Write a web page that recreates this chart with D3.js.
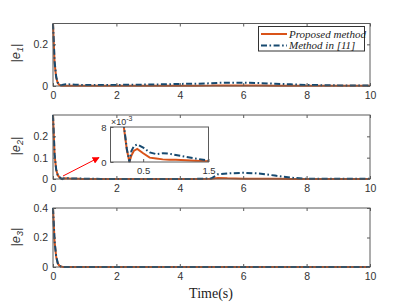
<!DOCTYPE html>
<html><head><meta charset="utf-8">
<script src="https://cdn.jsdelivr.net/npm/d3@7"></script>
<style>body{margin:0;background:#fff}svg{display:block}</style>
</head><body>
<script>
// ---------- data ----------
const time = [0,0.05,0.1,0.15,0.2,0.25,0.29,0.32,0.36,0.41,0.5,0.6,0.7,0.8,0.9,1.0,1.15,1.3,1.5,2,2.5,3,3.5,4,4.5,5,5.2,5.5,6,6.5,7,7.5,8,8.5,9,9.5,10];
const e1Proposed = [0.3,0.11,0.04,0.014,0.005,0.002,0.0015,0.0015,0.0015,0.0015,0.0015,0.0015,0.0015,0.0015,0.0015,0.0015,0.0015,0.0015,0.0015,0.0015,0.0015,0.0015,0.0015,0.0015,0.0015,0.002,0.003,0.003,0.0025,0.002,0.0015,0.0012,0.001,0.001,0.001,0.001,0.001];
const e1Method = [0.3,0.12,0.045,0.016,0.006,0.004,0.005,0.006,0.007,0.008,0.008,0.007,0.006,0.006,0.005,0.005,0.005,0.005,0.005,0.005,0.006,0.007,0.008,0.01,0.011,0.013,0.015,0.016,0.016,0.014,0.011,0.008,0.005,0.004,0.003,0.003,0.003];
const e2Proposed = [0.3,0.113,0.043,0.018,0.0085,0.0028,0,0.0015,0.0026,0.003,0.002,0.001,0.0008,0.0006,0.0005,0.0005,0.0004,0.0003,0.0002,0.0002,0.0002,0.0002,0.0002,0.0002,0.0003,0.001,0.005,0.003,0.0015,0.001,0.0006,0.0003,0.0002,0.0002,0.0002,0.0002,0.0002];
const e2Method = [0.3,0.116,0.045,0.019,0.009,0.003,0,0.0025,0.0037,0.004,0.0033,0.0022,0.0018,0.002,0.0019,0.0016,0.0012,0.0008,0.0003,0.0003,0.0003,0.0003,0.0003,0.0004,0.0005,0.003,0.022,0.026,0.029,0.026,0.016,0.006,0.001,0.001,0.001,0.001,0.001];
const e3Proposed = [0.4,0.17,0.07,0.025,0.009,0.003,0.001,0.0005,0.0003,0.0003,0.0003,0.0003,0.0003,0.0003,0.0003,0.0003,0.0003,0.0003,0.0003,0.0003,0.0003,0.0003,0.0003,0.0003,0.0003,0.0003,0.0003,0.0003,0.0003,0.0003,0.0003,0.0003,0.0003,0.0003,0.0003,0.0003,0.0003];
const e3Method = [0.4,0.175,0.072,0.027,0.01,0.0035,0.0012,0.0006,0.0004,0.0004,0.0004,0.0004,0.0004,0.0004,0.0004,0.0004,0.0004,0.0004,0.0004,0.0004,0.0004,0.0004,0.0004,0.0004,0.0004,0.0004,0.0004,0.0004,0.0004,0.0004,0.0004,0.0004,0.0004,0.0004,0.0004,0.0004,0.0004];
const xTicks = [0,2,4,6,8,10];
const yTicks1 = [0,0.2];
const yTicks2 = [0,0.1,0.2];
const yTicks3 = [0,0.2,0.4];
const insetXTicks = [0.5,1.5];
const insetYTicks = [0,8];
const seriesNames = ["Proposed method","Method in [11]"];
const yLabelSubs = ["1","2","3"];

// ---------- style ----------
const W = 409, H = 307;
const orange = "#D95319", blue = "#174A70";
const axisCol = "#5a5a5a", textCol = "#333";
const dash = "6,2.5,1.6,2.5";

const svg = d3.select("body").append("svg").attr("width", W).attr("height", H);

const x = d3.scaleLinear().domain([0,10]).range([53,370]);
const panels = [
  {top:23.5, bottom:86, dom:[0,0.3], ticks:yTicks1, p:e1Proposed, m:e1Method, labY:53},
  {top:115, bottom:179, dom:[0,0.3], ticks:yTicks2, p:e2Proposed, m:e2Method, labY:146},
  {top:208, bottom:267, dom:[0,0.4], ticks:yTicks3, p:e3Proposed, m:e3Method, labY:237}
];

function styleAxis(g){
  g.select(".domain").remove();
  g.selectAll(".tick line").attr("stroke", axisCol).attr("stroke-width",1);
  g.selectAll(".tick text").attr("fill", textCol).attr("font-family","'Liberation Sans', Arial, sans-serif").attr("font-size","10.5px");
}

panels.forEach((P, i) => {
  const y = d3.scaleLinear().domain(P.dom).range([P.bottom, P.top]);
  const id = "clip"+i;
  svg.append("clipPath").attr("id", id).append("rect")
    .attr("x", x(0)-1).attr("y", P.top).attr("width", x(10)-x(0)+2).attr("height", P.bottom-P.top+2);
  const line = d3.line().x((d,k)=>x(time[k])).y(d=>y(d));
  const g = svg.append("g").attr("clip-path", `url(#${id})`);
  g.append("path").attr("d", line(P.p)).attr("fill","none").attr("stroke",orange).attr("stroke-width",2);
  g.append("path").attr("d", line(P.m)).attr("fill","none").attr("stroke",blue).attr("stroke-width",2).attr("stroke-dasharray",dash);

  // axes
  svg.append("g").attr("transform",`translate(0,${P.bottom})`)
    .call(d3.axisBottom(x).tickValues(xTicks).tickSize(-3).tickPadding(6).tickFormat(d3.format("d"))).call(styleAxis);
  svg.append("g").attr("transform",`translate(0,${P.top})`)
    .call(d3.axisTop(x).tickValues(xTicks).tickSize(-3).tickFormat("")).call(styleAxis);
  svg.append("g").attr("transform",`translate(${x(0)},0)`)
    .call(d3.axisLeft(y).tickValues(P.ticks).tickSize(-3).tickPadding(5).tickFormat(d=>d===0?"0":d3.format(".1f")(d))).call(styleAxis);
  svg.append("g").attr("transform",`translate(${x(10)},0)`)
    .call(d3.axisRight(y).tickValues(P.ticks).tickSize(-3).tickFormat("")).call(styleAxis);
  svg.append("rect").attr("x", x(0)).attr("y", P.top).attr("width", x(10)-x(0)).attr("height", P.bottom-P.top)
    .attr("fill","none").attr("stroke",axisCol).attr("stroke-width",1);

  // y label
  const t = svg.append("text").attr("transform",`translate(19.5,${P.labY}) rotate(-90)`)
    .attr("text-anchor","middle").attr("font-family","'Liberation Sans', Arial, sans-serif").attr("font-size","13px").attr("fill",textCol);
  t.append("tspan").text("|");
  t.append("tspan").attr("font-style","italic").text("e");
  t.append("tspan").attr("font-style","italic").attr("font-size","9px").attr("dy","3").text(yLabelSubs[i]);
  t.append("tspan").attr("dy","-3").text("|");
});

// x label
svg.append("text").attr("x",211).attr("y",298).attr("text-anchor","middle")
  .attr("font-family","'Liberation Serif','Times New Roman',serif").attr("font-size","14px").attr("fill","#222").text("Time(s)");

// legend
const lg = svg.append("g");
lg.append("rect").attr("x",258.5).attr("y",26.5).attr("width",106).attr("height",24.5).attr("fill","#fff").attr("stroke","#333").attr("stroke-width",1);
[[orange,null],[blue,dash]].forEach((s,k)=>{
  const yy = 34 + k*11.5;
  lg.append("line").attr("x1",261).attr("x2",287).attr("y1",yy).attr("y2",yy).attr("stroke",s[0]).attr("stroke-width",2).attr("stroke-dasharray",s[1]);
  lg.append("text").attr("x",289).attr("y",yy+3.8).attr("font-family","'Liberation Serif','Times New Roman',serif")
    .attr("font-style","italic").attr("font-size","11px").attr("fill","#222").text(seriesNames[k]);
});

// red arrow
svg.append("defs").append("marker").attr("id","arr").attr("viewBox","0 0 10 10").attr("refX",9).attr("refY",5)
  .attr("markerWidth",7).attr("markerHeight",7).attr("markerUnits","userSpaceOnUse").attr("orient","auto")
  .append("path").attr("d","M0,0L10,5L0,10z").attr("fill","#f00");
svg.append("line").attr("x1",63).attr("y1",176).attr("x2",99).attr("y2",157.5).attr("stroke","#f00").attr("stroke-width",1).attr("marker-end","url(#arr)");

// inset
const ix = d3.scaleLinear().domain([0,1.5]).range([110.5,208.5]);
const iy = d3.scaleLinear().domain([0,8]).range([162,127]);
svg.append("rect").attr("x",110.5).attr("y",127).attr("width",98).attr("height",35).attr("fill","#fff");
svg.append("clipPath").attr("id","iclip").append("rect").attr("x",110.5).attr("y",127).attr("width",98).attr("height",36);
const il = d3.line().defined((d,k)=>time[k]<=1.6).x((d,k)=>ix(time[k])).y(d=>iy(d*1000));
const ig = svg.append("g").attr("clip-path","url(#iclip)");
ig.append("path").attr("d", il(e2Proposed)).attr("fill","none").attr("stroke",orange).attr("stroke-width",2);
ig.append("path").attr("d", il(e2Method)).attr("fill","none").attr("stroke",blue).attr("stroke-width",2).attr("stroke-dasharray",dash);
svg.append("g").attr("transform","translate(0,162)")
  .call(d3.axisBottom(ix).tickValues(insetXTicks).tickSize(-3).tickPadding(5)).call(styleAxis)
  .selectAll("text").attr("font-size","9.5px");
svg.append("g").attr("transform","translate(110.5,0)")
  .call(d3.axisLeft(iy).tickValues(insetYTicks).tickSize(-3).tickPadding(4)).call(styleAxis)
  .selectAll("text").attr("font-size","9.5px");
svg.append("rect").attr("x",110.5).attr("y",127).attr("width",98).attr("height",35).attr("fill","none").attr("stroke",axisCol).attr("stroke-width",1);
const ex = svg.append("text").attr("x",111).attr("y",124.5).attr("font-family","'Liberation Sans', Arial, sans-serif").attr("font-size","9px").attr("fill",textCol);
ex.append("tspan").text("×10");
ex.append("tspan").attr("dy","-4").attr("font-size","7px").text("-3");
</script>
</body></html>
